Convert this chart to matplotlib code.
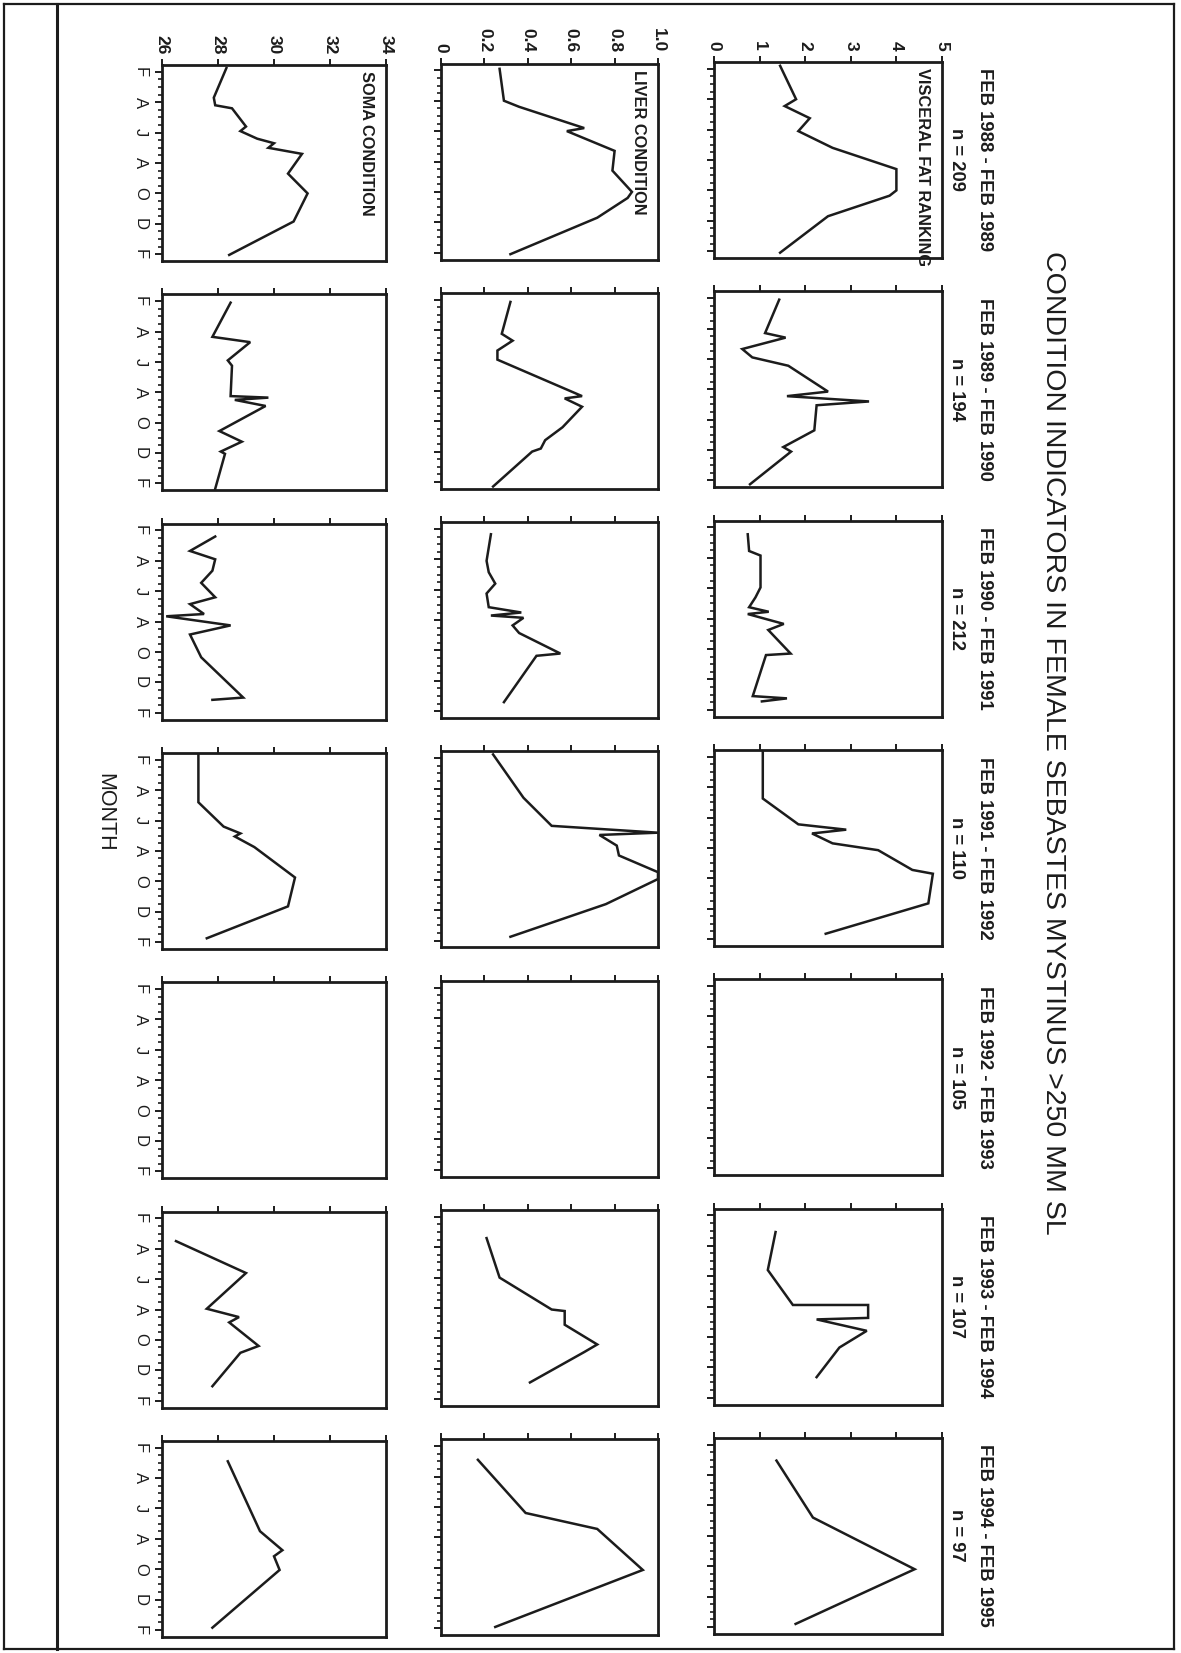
import matplotlib
matplotlib.use('Agg')
import matplotlib.pyplot as plt
from matplotlib.lines import Line2D
from matplotlib.ticker import MultipleLocator

# ---- data (month 0 = Feb, 12 = next Feb) ----
title = 'CONDITION INDICATORS IN FEMALE SEBASTES MYSTINUS >250 MM SL'
periods = ['FEB 1988 - FEB 1989', 'FEB 1989 - FEB 1990', 'FEB 1990 - FEB 1991',
           'FEB 1991 - FEB 1992', 'FEB 1992 - FEB 1993', 'FEB 1993 - FEB 1994',
           'FEB 1994 - FEB 1995']
sample_n = [209, 194, 212, 110, 105, 107, 97]
month_ticks = [0, 2, 4, 6, 8, 10, 12]
month_labels = ['F', 'A', 'J', 'A', 'O', 'D', 'F']

fat_88_m = [-0.2, 2.0, 2.45, 3.25, 4.1, 5.2, 6.6, 8.0, 8.35, 9.7, 12.1]
fat_88 = [1.45, 1.8, 1.55, 2.1, 1.85, 2.6, 4.0, 4.0, 3.85, 2.5, 1.45]
liver_88_m = [-0.1, 2.0, 2.4, 3.8, 4.0, 5.3, 6.6, 8.0, 8.4, 9.7, 12.1]
liver_88 = [0.27, 0.29, 0.36, 0.66, 0.58, 0.80, 0.79, 0.88, 0.86, 0.72, 0.32]
soma_88_m = [-0.25, 1.7, 2.2, 2.4, 3.6, 3.9, 4.4, 4.7, 5.0, 5.4, 6.7, 8.0, 9.85, 12.05]
soma_88 = [28.3, 27.85, 27.9, 28.5, 29.0, 28.8, 29.4, 30.0, 29.8, 31.0, 30.5, 31.2, 30.7, 28.4]

fat_89_m = [0.1, 2.3, 2.6, 3.35, 3.9, 4.45, 6.15, 6.45, 6.8, 7.05, 8.7, 9.8, 10.1, 12.25]
fat_89 = [1.43, 1.12, 1.57, 0.62, 0.84, 1.63, 2.5, 1.6, 3.4, 2.25, 2.2, 1.52, 1.69, 0.79]
liver_89_m = [0.15, 2.25, 2.7, 3.35, 3.95, 6.35, 6.5, 7.05, 8.4, 9.25, 9.8, 10.0, 12.3]
liver_89 = [0.32, 0.28, 0.33, 0.26, 0.26, 0.65, 0.57, 0.65, 0.56, 0.48, 0.46, 0.42, 0.24]
soma_89_m = [0.1, 2.35, 2.7, 3.9, 4.25, 6.25, 6.35, 6.5, 6.9, 8.55, 9.25, 9.9, 10.05, 12.35]
soma_89 = [28.45, 27.8, 29.15, 28.35, 28.5, 28.45, 29.8, 28.6, 29.7, 28.05, 28.85, 28.1, 28.25, 27.9]

fat_90_m = [0.45, 1.55, 1.85, 3.95, 4.6, 5.25, 5.55, 5.7, 6.35, 6.75, 8.3, 8.4, 11.1, 11.25, 11.45]
fat_90 = [0.74, 0.77, 1.02, 1.02, 0.91, 0.77, 1.2, 0.74, 1.53, 1.19, 1.68, 1.14, 0.85, 1.6, 1.05]
liver_90_m = [0.35, 2.1, 2.85, 3.6, 4.25, 5.15, 5.5, 5.7, 5.85, 6.35, 6.85, 8.2, 8.35, 11.4]
liver_90 = [0.23, 0.21, 0.22, 0.25, 0.21, 0.22, 0.37, 0.23, 0.38, 0.33, 0.36, 0.55, 0.44, 0.29]
soma_90_m = [0.4, 1.35, 1.9, 2.65, 3.45, 4.4, 4.85, 5.5, 5.65, 6.25, 6.85, 8.35, 11.0, 11.15]
soma_90 = [27.9, 27.0, 27.9, 27.8, 27.4, 27.9, 27.0, 27.5, 26.15, 28.45, 27.0, 27.4, 28.9, 27.8]

fat_91_m = [-0.3, 2.75, 4.45, 4.8, 5.05, 5.7, 6.15, 7.45, 7.7, 9.65, 11.65]
fat_91 = [1.07, 1.07, 1.85, 2.9, 2.15, 2.6, 3.6, 4.35, 4.8, 4.7, 2.45]
liver_91_m = [-0.25, 2.6, 4.45, 4.9, 5.05, 5.75, 6.4, 7.5, 7.95, 9.6, 11.75]
liver_91 = [0.24, 0.38, 0.51, 1.0, 0.73, 0.81, 0.82, 1.0, 1.0, 0.76, 0.32]
soma_91_m = [-0.35, 2.8, 4.4, 4.85, 5.05, 5.75, 7.75, 9.65, 11.75]
soma_91 = [27.3, 27.3, 28.2, 28.8, 28.6, 29.3, 30.75, 30.5, 27.6]

fat_92_m, fat_92 = [], []
liver_92_m, liver_92 = [], []
soma_92_m, soma_92 = [], []

fat_93_m = [1.1, 3.6, 5.9, 5.9, 6.75, 6.85, 7.6, 8.7, 10.65]
fat_93 = [1.35, 1.18, 1.73, 3.38, 3.38, 2.25, 3.35, 2.75, 2.25]
liver_93_m = [1.4, 4.0, 6.1, 6.2, 7.1, 8.4, 8.9, 10.9]
liver_93 = [0.21, 0.27, 0.51, 0.57, 0.57, 0.72, 0.66, 0.41]
soma_93_m = [1.5, 3.6, 5.95, 6.5, 6.85, 8.4, 8.85, 11.05]
soma_93 = [26.5, 29.0, 27.6, 28.75, 28.4, 29.45, 28.8, 27.8]

fat_94_m = [1.05, 4.8, 8.2, 11.8]
fat_94 = [1.37, 2.17, 4.4, 1.79]
liver_94_m = [0.9, 4.4, 5.45, 8.15, 11.9]
liver_94 = [0.17, 0.39, 0.72, 0.93, 0.25]
soma_94_m = [0.9, 5.5, 6.75, 7.15, 8.05, 11.85]
soma_94 = [28.35, 29.5, 30.3, 30.0, 30.2, 27.8]

soma_ticks = [26, 28, 30, 32, 34]
liver_ticks = [0, 0.2, 0.4, 0.6, 0.8, 1.0]
liver_ticklabels = ['0', '0.2', '0.4', '0.6', '0.8', '1.0']
fat_ticks = [0, 1, 2, 3, 4, 5]

soma_series = [(soma_88_m, soma_88), (soma_89_m, soma_89), (soma_90_m, soma_90), (soma_91_m, soma_91),
               (soma_92_m, soma_92), (soma_93_m, soma_93), (soma_94_m, soma_94)]
liver_series = [(liver_88_m, liver_88), (liver_89_m, liver_89), (liver_90_m, liver_90), (liver_91_m, liver_91),
                (liver_92_m, liver_92), (liver_93_m, liver_93), (liver_94_m, liver_94)]
fat_series = [(fat_88_m, fat_88), (fat_89_m, fat_89), (fat_90_m, fat_90), (fat_91_m, fat_91),
              (fat_92_m, fat_92), (fat_93_m, fat_93), (fat_94_m, fat_94)]

# ---- layout (page is the original landscape chart turned 90 deg clockwise) ----
W, H = 1181, 1653
fig = plt.figure(figsize=(W / 100, H / 100), dpi=100, facecolor='white')
INK = '#1c1c1c'
SANS = ['Liberation Sans', 'DejaVu Sans']

# x0, x1, y offset, limits, ticks, tick labels, panel name, series
columns = [
    (162, 386, 3, (26, 34), soma_ticks, [str(t) for t in soma_ticks], 'SOMA CONDITION', soma_series),
    (441, 658, 1.5, (0, 1), liver_ticks, liver_ticklabels, 'LIVER CONDITION', liver_series),
    (714, 942, 0, (0, 5), fat_ticks, [str(t) for t in fat_ticks], 'VISCERAL FAT RANKING', fat_series),
]
row_top0, row_pitch, row_h = 62, 229.3, 196


def px_axes(x0, y0, x1, y1):
    return fig.add_axes([x0 / W, 1 - y1 / H, (x1 - x0) / W, (y1 - y0) / H])


for r in range(len(periods)):
    top = row_top0 + r * row_pitch
    for c, (x0, x1, dy, lim, ticks, tlabels, name, series) in enumerate(columns):
        ax = px_axes(x0, top + dy, x1, top + dy + row_h)
        m, v = series[r]
        ax.plot(v, m, color=INK, lw=1.8, solid_joinstyle='miter')
        ax.set_xlim(*lim)
        ax.set_ylim(12.45, -0.45)
        for s in ax.spines.values():
            s.set_linewidth(2.0)
            s.set_color(INK)

        ax.xaxis.tick_top()
        ax.set_xticks(ticks)
        ax.tick_params(axis='x', top=True, bottom=False, direction='out',
                       length=4, width=1.4, color=INK, pad=4)
        if r == 0:
            ax.set_xticklabels(tlabels, rotation=-90, ha='center', va='bottom',
                               fontsize=12.5, fontweight='bold', family=SANS, color=INK)
            ax.text(1 - 12 / (x1 - x0), 1 - 6 / row_h, name, transform=ax.transAxes,
                    rotation=-90, ha='right', va='top', fontsize=11.8,
                    fontweight='bold', family=SANS, color=INK)
        else:
            ax.set_xticklabels([])

        ax.set_yticks(month_ticks)
        ax.yaxis.set_minor_locator(MultipleLocator(0.5))
        ax.tick_params(axis='y', which='major', left=True, right=False, direction='out',
                       length=5, width=1.4, color=INK, pad=5)
        ax.tick_params(axis='y', which='minor', left=True, right=False, direction='out',
                       length=3, width=1.2, color=INK)
        if c == 0:
            ax.set_yticklabels(month_labels, rotation=-90, ha='right', va='center',
                               fontsize=12, family=SANS, color=INK)
        else:
            ax.set_yticklabels([])

    yc = 1 - (top + row_h / 2) / H
    fig.text(985 / W, yc, periods[r], rotation=-90, ha='center', va='center',
             fontsize=13.3, fontweight='bold', family=SANS, color=INK)
    fig.text(957 / W, yc, f'n = {sample_n[r]}', rotation=-90, ha='center', va='center',
             fontsize=13.3, fontweight='bold', family=SANS, color=INK)

fig.text(1053 / W, 1 - 743 / H, title, rotation=-90, ha='center', va='center',
         fontsize=20.5, family=SANS, color=INK)
fig.text(105 / W, 1 - 812 / H, 'MONTH', rotation=-90, ha='center', va='center',
         fontsize=15.5, family=SANS, color=INK)

# page frame
for xs, ys, lw in [([4, 1174], [4, 4], 1.6), ([4, 1174], [1649, 1649], 1.6),
                   ([4, 4], [4, 1649], 1.6), ([1174, 1174], [4, 1649], 1.6),
                   ([57, 57], [4, 1649], 2.2)]:
    fig.add_artist(Line2D([x / W for x in xs], [1 - y / H for y in ys],
                          transform=fig.transFigure, color=INK, lw=lw))

fig.savefig('out.png', dpi=100, facecolor='white')
